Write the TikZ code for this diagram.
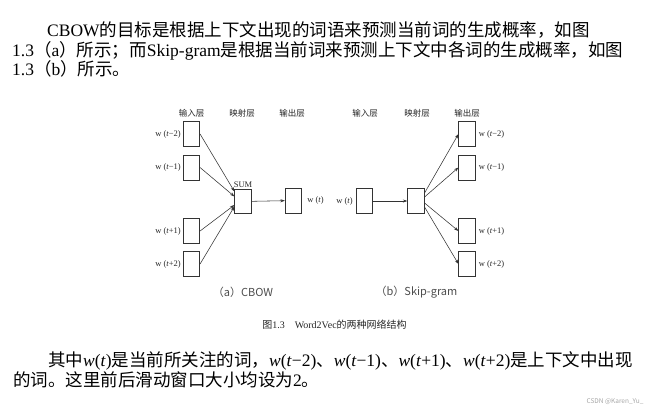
\documentclass[tikz,border=0pt]{standalone}
\usepackage{fontspec}
\setmainfont{Liberation Serif}
\newfontfamily\cjk{Noto Sans CJK SC}
\usetikzlibrary{positioning,arrows.meta}
\XeTeXlinebreaklocale "zh"
\XeTeXlinebreakskip=0pt plus 1pt
\newcommand{\zh}[1]{{\cjk #1}}
\newcommand{\iw}[1]{\textit{w}(\textit{t}#1)}

\tikzset{
  cell/.style={draw=black!80, line width=0.6pt, minimum width=16.5pt, minimum height=25pt, inner sep=0pt},
  layerhead/.style={font=\cjk\fontsize{8.5}{10}\selectfont, text=black!85},
  wlabel/.style={font=\fontsize{8.5}{10}\selectfont, inner sep=0pt, text=black!85},
  link/.style={draw=black!80, line width=0.55pt, -{Stealth[length=4.5pt,width=3pt]}},
  para/.style={anchor=base west, inner sep=0pt, font=\fontsize{17.5}{20}\selectfont},
  subcap/.style={font=\cjk\fontsize{11}{13}\selectfont, text=black!70}
}

\begin{document}
\begin{tikzpicture}[x=1pt, y=-1pt]
    \useasboundingbox (0,0) rectangle (650,410);
    % text above
    \node[para] (p1a) at (47,36.6) {\makebox[549pt][s]{CBOW\zh{的目标是根据上下文出现的词语来预测当前词的生成概率，如图}}};
    \node[para] (p1b) at (12,56.6) {\makebox[618pt][s]{1.3\zh{（}a\zh{）所示；而}Skip-gram\zh{是根据当前词来预测上下文中各词的生成概率，如图}}};
    \node[para] (p1c) at (12,75.5) {1.3\zh{（}b\zh{）所示。}};

    % (a) CBOW
    \node[layerhead] (ha1) at (191.5,113) {输入层};
    \node[layerhead] (ha2) at (242,113) {映射层};
    \node[layerhead] (ha3) at (292,113) {输出层};
    \foreach \n/\y/\off in {1/134/−2, 2/167.5/−1, 3/231/+1, 4/264/+2}{
        \node[cell] (in\n) at (191.5,\y) {};
        \node[wlabel, left=2pt of in\n] (lin\n) {w (\textit{t}\off)};
    }
    \node[cell, minimum height=23.5pt] (sum) at (243,201.5) {};
    \node[wlabel, above=2pt of sum] (lsum) {SUM};
    \node[cell] (out) at (293.5,200.5) {};
    \node[wlabel, right=5pt of out] (lout) {w (\textit{t})};
    \foreach \n/\s in {1/10pt, 2/5pt, 3/-3.5pt, 4/-5pt}
        \draw[link] (in\n.east) -- ([yshift=\s]sum.west);
    \draw[link] (sum) -- (out);
    \node[subcap] (capa) at (243,292) {（a）CBOW};

    % (b) Skip-gram
    \node[layerhead] (hb1) at (365,113) {输入层};
    \node[layerhead] (hb2) at (417,113) {映射层};
    \node[layerhead] (hb3) at (467,113) {输出层};
    \node[cell] (win) at (364.5,201) {};
    \node[wlabel, left=3pt of win] (lwin) {w (\textit{t})};
    \node[cell] (proj) at (416,201) {};
    \foreach \n/\y/\off in {1/134/−2, 2/167.5/−1, 3/231/+1, 4/264/+2}{
        \node[cell] (o\n) at (467,\y) {};
        \node[wlabel, right=3pt of o\n] (lo\n) {w (\textit{t}\off)};
    }
    \draw[link] (win) -- (proj);
    \foreach \n/\s in {1/8pt, 2/4pt, 3/-2pt, 4/-6pt}
        \draw[link] ([yshift=\s]proj.east) -- (o\n.west);
    \node[subcap] (capb) at (416.5,292) {（b）Skip-gram};

    \node[font=\fontsize{10}{12}\selectfont, text=black!85] (fig) at (334.5,325) {\zh{图}1.3\quad Word2Vec\zh{的两种网络结构}};

    % text below
    \node[para] (p2a) at (48,366.6) {\makebox[587pt][s]{\zh{其中}\iw{}\zh{是当前所关注的词，}\iw{−2}\zh{、}\iw{−1}\zh{、}\iw{+1}\zh{、}\iw{+2}\zh{是上下文中出现}}};
    \node[para] (p2b) at (13,386.6) {\zh{的词。这里前后滑动窗口大小均设为}2\zh{。}};

    \node[font=\cjk\fontsize{6.5}{8}\selectfont, text=black!35] (wm) at (615,402) {CSDN @Karen\_Yu\_};
\end{tikzpicture}
\end{document}
